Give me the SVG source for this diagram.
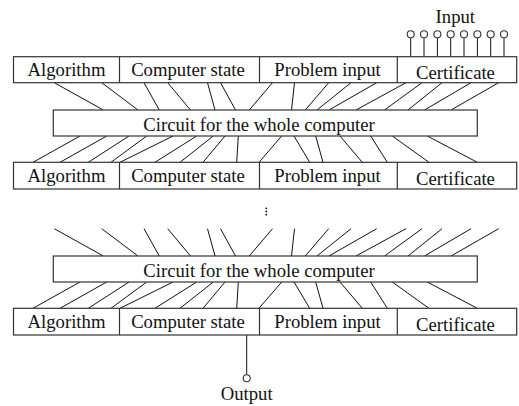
<svg xmlns="http://www.w3.org/2000/svg" width="519" height="406" viewBox="0 0 519 406">
<defs>
<style>
.box{fill:#fff;stroke:#333;stroke-width:1.2}
.w{stroke:#111;stroke-width:1;fill:none}
.t{font-family:"Liberation Serif","Times New Roman",serif;font-size:18.7px;fill:#111;text-anchor:middle}
.pin{fill:#fff;stroke:#333;stroke-width:1.1}
</style>
<g id="band1" class="w">
<path d="M54.3,82.7L103.3,110M101.7,82.7L138,110M144,82.7L159.3,110M167.7,82.7L190.5,110M207.5,82.7L215,110M220.5,82.7L235.5,110M272.5,82.7L249.3,110M294.5,82.7L291.5,110M328.7,82.7L305.3,110M351,82.7L317,110M376.7,82.7L329,110M406,82.7L356,110M422,82.7L384.5,110M442,82.7L408,110M471,82.7L424.5,110M498.7,82.7L451,110"/>
</g>
<g id="band2" class="w">
<path d="M80,136L33,162.3M106.7,136L60,162.3M129,136L88.3,162.3M146.7,136L111,162.3M173,136L120,162.3M196.7,136L155,162.3M213.3,136L180,162.3M225,136L203,162.3M238.3,136L236.7,162.3M281.7,136L259,162.3M294,136L309.7,162.3M315.7,136L323,162.3M340,136L362.3,162.3M370.7,136L387.3,162.3M392.3,136L429,162.3M427.3,136L477.3,162.3"/>
</g>
</defs>
<g id="connectors">
<use href="#band1"/>
<use href="#band2"/>
<use href="#band1" transform="translate(0,146)"/>
<use href="#band2" transform="translate(0,146)"/>
<g class="w">
<path d="M410.7,37.8V56.7M424,37.8V56.7M437.4,37.8V56.7M450.7,37.8V56.7M464,37.8V56.7M477.4,37.8V56.7M490.7,37.8V56.7M504,37.8V56.7"/>
<path d="M246.7,335V374.8"/>
</g>
</g>
<g id="input">
<text class="t" x="455.3" y="23.3">Input</text>
<g class="pin">
<circle cx="410.7" cy="34.3" r="3.5"/><circle cx="424" cy="34.3" r="3.5"/><circle cx="437.4" cy="34.3" r="3.5"/><circle cx="450.7" cy="34.3" r="3.5"/><circle cx="464" cy="34.3" r="3.5"/><circle cx="477.4" cy="34.3" r="3.5"/><circle cx="490.7" cy="34.3" r="3.5"/><circle cx="504" cy="34.3" r="3.5"/>
</g>
</g>
<g id="row1">
<rect class="box" x="13.5" y="56.7" width="503.2" height="26"/>
<path class="box" d="M119.5,56.7V82.7M259.5,56.7V82.7M397.3,56.7V82.7"/>
<text class="t" x="66.5" y="76">Algorithm</text>
<text class="t" x="188" y="76">Computer state</text>
<text class="t" x="327.5" y="76">Problem input</text>
<text class="t" x="455.5" y="79">Certificate</text>
</g>
<g id="circuit1">
<rect class="box" x="53.3" y="110" width="424" height="26"/>
<text class="t" x="259" y="130.5">Circuit for the whole computer</text>
</g>
<g id="row2">
<rect class="box" x="13.5" y="162.3" width="503.2" height="26.7"/>
<path class="box" d="M119.5,162.3V189M259.5,162.3V189M397.3,162.3V189"/>
<text class="t" x="66.5" y="181.7">Algorithm</text>
<text class="t" x="188" y="181.7">Computer state</text>
<text class="t" x="327.5" y="181.7">Problem input</text>
<text class="t" x="455.5" y="184.7">Certificate</text>
</g>
<g id="dots" fill="#111">
<circle cx="266.3" cy="208.3" r="0.9"/><circle cx="266.3" cy="211.5" r="0.9"/><circle cx="266.3" cy="214.7" r="0.9"/>
</g>
<g id="circuit2">
<rect class="box" x="53.3" y="256" width="424" height="26"/>
<text class="t" x="259" y="276.5">Circuit for the whole computer</text>
</g>
<g id="row3">
<rect class="box" x="13.5" y="308.3" width="503.2" height="26.7"/>
<path class="box" d="M119.5,308.3V335M259.5,308.3V335M397.3,308.3V335"/>
<text class="t" x="66.5" y="327.7">Algorithm</text>
<text class="t" x="188" y="327.7">Computer state</text>
<text class="t" x="327.5" y="327.7">Problem input</text>
<text class="t" x="455.5" y="330.7">Certificate</text>
</g>
<g id="output">
<circle class="pin" cx="246.7" cy="378.3" r="3.5"/>
<text class="t" x="246.7" y="400">Output</text>
</g>
</svg>
